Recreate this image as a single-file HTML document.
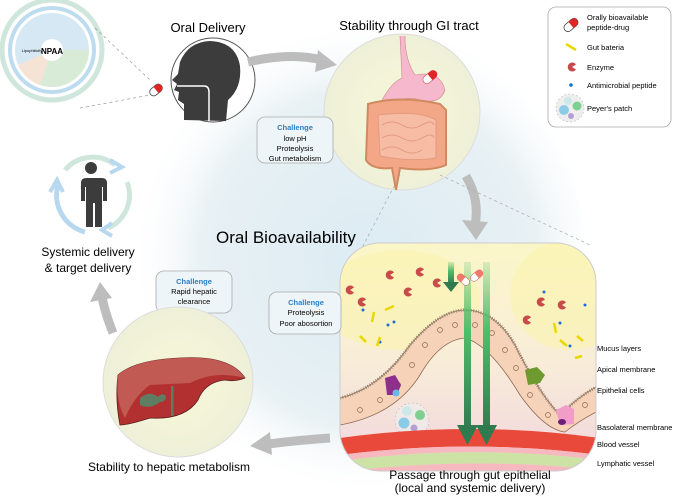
<!DOCTYPE html>
<html><head><meta charset="utf-8"><style>
html,body{margin:0;padding:0;background:#fff;width:685px;height:500px;overflow:hidden;}
svg{display:block;font-family:"Liberation Sans",Arial,sans-serif;}
</style></head><body>
<svg width="685" height="500" viewBox="0 0 685 500" xmlns="http://www.w3.org/2000/svg">
<defs>
<radialGradient id="bg" cx="0.55" cy="0.5" r="0.5">
<stop offset="0" stop-color="#dcebf3"/><stop offset="0.7" stop-color="#e8f1f4"/><stop offset="1" stop-color="#ffffff" stop-opacity="0"/>
</radialGradient>
<radialGradient id="yc" cx="0.5" cy="0.5" r="0.5">
<stop offset="0" stop-color="#f8f8d8"/><stop offset="1" stop-color="#eef0d8"/>
</radialGradient>
<linearGradient id="gutbg" x1="0" y1="0" x2="0" y2="1">
<stop offset="0" stop-color="#fbf6c8"/><stop offset="0.5" stop-color="#f8eed8"/><stop offset="1" stop-color="#f2d4de"/>
</linearGradient>
<linearGradient id="ga" x1="0" y1="0" x2="0" y2="1">
<stop offset="0" stop-color="#4fbf6a" stop-opacity="0.2"/><stop offset="0.4" stop-color="#4fbf6a"/><stop offset="1" stop-color="#2f7a4f"/>
</linearGradient>
<path id="pac" d="M0 0 L4 -2.5 A4.5 4.5 0 1 0 4 2.5 Z" fill="#c94a4a"/>
<clipPath id="gc"><rect x="340" y="243" width="256" height="228" rx="40"/></clipPath>
</defs>
<rect width="685" height="500" fill="#fff"/>
<circle cx="345" cy="258" r="240" fill="url(#bg)"/>

<!-- wheel -->
<g>
<circle cx="52" cy="50" r="50" fill="none" stroke="#cfe6dc" stroke-width="5"/>
<circle cx="52" cy="50" r="42" fill="none" stroke="#bddcf0" stroke-width="4"/>
<circle cx="52" cy="50" r="37" fill="#d6e8f3"/>
<path d="M52 50 L89 50 A37 37 0 0 1 40 85 Z" fill="#d8ebd6"/>
<path d="M52 50 L40 85 A37 37 0 0 1 18 65 Z" fill="#f5e3d6"/>
<circle cx="52" cy="50" r="11" fill="#fff"/>
<text x="52" y="54" font-size="8" font-weight="bold" text-anchor="middle">NPAA</text>
<text x="32" y="52" font-size="4" text-anchor="middle">Lipophilicity</text>
</g>
<line x1="95" y1="28" x2="150" y2="80" stroke="#999" stroke-dasharray="3,3" stroke-width="0.7"/>
<line x1="80" y1="108" x2="150" y2="95" stroke="#999" stroke-dasharray="3,3" stroke-width="0.7"/>
<g transform="rotate(-40 156 90)"><rect x="149" y="86" width="14" height="8" rx="4" fill="#fff" stroke="#444" stroke-width="0.8"/><path d="M156 86 h3 a4 4 0 0 1 0 8 h-3z" fill="#e02525"/></g>

<!-- Oral delivery -->
<text x="208" y="32" font-size="13" text-anchor="middle">Oral Delivery</text>
<circle cx="213" cy="80" r="42" fill="#fff" stroke="#555" stroke-width="1"/>
<path d="M184 120 L184 104 L178 100 L179 92 L174 90 L177 84 L172 80 L178 74 L180 62 Q188 42 210 41 Q236 42 240 66 Q242 88 228 100 L226 121 Z" fill="#3c3c3c"/>
<path d="M177 86 L204 86 Q209 86 209 92 L209 121" fill="none" stroke="#fff" stroke-width="1.5"/>
<path d="M248 62 Q290 52 322 60" fill="none" stroke="#bdbdbd" stroke-width="9"/>
<path d="M318 50 L337 65 L315 72 Z" fill="#bdbdbd"/>

<!-- GI -->
<text x="409" y="30" font-size="13" text-anchor="middle">Stability through GI tract</text>
<circle cx="402" cy="112" r="78" fill="url(#yc)" stroke="#ddd" stroke-width="1"/>
<path d="M405 36 Q405 60 415 75 Q440 70 445 90 Q440 105 420 100 Q405 95 395 105 L382 100 Q392 82 402 78 L400 36" fill="#f5b8cc" stroke="#c88" stroke-width="0.6"/>
<g transform="rotate(-40 430 77)"><rect x="422" y="73" width="16" height="8" rx="4" fill="#fff" stroke="#c55" stroke-width="0.6"/><path d="M430 73h4a4 4 0 0 1 0 8h-4z" fill="#e02525"/></g>
<path d="M368 104 Q400 95 440 104 L446 110 L446 165 Q430 172 400 168 L396 190 L392 168 Q372 170 366 160 Z" fill="#f3a786" stroke="#d08a60" stroke-width="2"/>
<path d="M378 115 Q420 110 436 120 L436 158 Q410 162 380 156 Z" fill="#f6bca4" stroke="#e39a80" stroke-width="1"/>
<path d="M382 125 q10 -6 20 0 t20 0 t12 0 M382 138 q10 -6 20 0 t20 0 t12 0 M382 150 q10 -6 20 0 t20 0" fill="none" stroke="#e39a80" stroke-width="1"/>
<rect x="257" y="117" width="76" height="46" rx="8" fill="#eef5f8" stroke="#aaa" stroke-width="0.8"/>
<text x="295" y="130" font-size="7.5" font-weight="bold" fill="#2a7fc8" text-anchor="middle">Challenge</text>
<text x="295" y="141" font-size="7.5" text-anchor="middle">low pH</text>
<text x="295" y="151" font-size="7.5" text-anchor="middle">Proteolysis</text>
<text x="295" y="161" font-size="7.5" text-anchor="middle">Gut metabolism</text>

<!-- legend -->
<rect x="548" y="7" width="123" height="120" rx="8" fill="#fff" stroke="#aaa" stroke-width="0.8"/>
<g transform="rotate(-40 571 25)"><rect x="563" y="21" width="16" height="8" rx="4" fill="#fff" stroke="#444" stroke-width="0.8"/><path d="M571 21h4a4 4 0 0 1 0 8h-4z" fill="#e02525"/></g>
<text x="587" y="20" font-size="7.5">Orally bioavailable</text>
<text x="587" y="30" font-size="7.5">peptide-drug</text>
<line x1="566" y1="44" x2="576" y2="50" stroke="#e8d800" stroke-width="2.5"/>
<text x="587" y="50" font-size="7.5">Gut bateria</text>
<use href="#pac" x="572" y="67"/>
<text x="587" y="70" font-size="7.5">Enzyme</text>
<circle cx="571" cy="85" r="1.8" fill="#1f6fd0"/>
<text x="587" y="88" font-size="7.5">Antimicrobial peptide</text>
<circle cx="570" cy="108" r="14" fill="#eee" stroke="#bbb" stroke-dasharray="2,2" stroke-width="0.6"/>
<circle cx="564" cy="110" r="5" fill="#8ccbe8"/><circle cx="577" cy="106" r="4.5" fill="#7fcf90"/><circle cx="568" cy="101" r="4" fill="#cde8e8"/><circle cx="571" cy="116" r="3" fill="#b59ed4"/>
<text x="587" y="111" font-size="7.5">Peyer's patch</text>

<!-- arrow down right -->
<path d="M466 176 Q480 200 475 225" fill="none" stroke="#bdbdbd" stroke-width="9"/>
<path d="M462 220 L476 240 L488 222 Z" fill="#bdbdbd"/>
<line x1="440" y1="175" x2="590" y2="245" stroke="#aaa" stroke-dasharray="3,3" stroke-width="0.7"/>
<line x1="400" y1="175" x2="340" y2="290" stroke="#aaa" stroke-dasharray="3,3" stroke-width="0.7"/>

<text x="216" y="243" font-size="17">Oral Bioavailability</text>

<!-- gut panel -->
<g clip-path="url(#gc)">
<rect x="340" y="243" width="256" height="228" fill="url(#gutbg)"/>
<ellipse cx="400" cy="300" rx="80" ry="50" fill="#fbf3a8" opacity="0.5"/>
<ellipse cx="570" cy="295" rx="60" ry="55" fill="#fbf3a8" opacity="0.5"/>
<path d="M340 398 Q380 388 410 345 Q440 310 465 310 Q495 310 515 345 Q540 395 560 415 Q580 395 600 385 L600 410 Q580 420 565 432 Q545 430 520 395 Q490 345 465 338 Q440 340 420 375 Q395 415 340 425 Z" fill="#f5d2b8" stroke="#8b6a55" stroke-width="0.8"/>
<path d="M340 398 Q380 388 410 345 Q440 310 465 310 Q495 310 515 345 Q540 395 560 415 Q580 395 600 385" fill="none" stroke="#9a8570" stroke-width="3" stroke-dasharray="1,1.5"/>
<g fill="none" stroke="#8b6a55" stroke-width="0.7">
<circle cx="360" cy="410" r="2.5"/><circle cx="380" cy="400" r="2.5"/><circle cx="398" cy="385" r="2.5"/><circle cx="412" cy="365" r="2.5"/><circle cx="425" cy="345" r="2.5"/><circle cx="440" cy="330" r="2.5"/><circle cx="455" cy="325" r="2.5"/><circle cx="475" cy="325" r="2.5"/><circle cx="492" cy="333" r="2.5"/><circle cx="505" cy="350" r="2.5"/><circle cx="516" cy="368" r="2.5"/><circle cx="530" cy="395" r="2.5"/><circle cx="548" cy="415" r="2.5"/><circle cx="568" cy="420" r="2.5"/><circle cx="585" cy="405" r="2.5"/>
</g>
<path d="M385 378 l10 -3 l6 10 l-4 10 l-10 0 z" fill="#8e2f8e"/><circle cx="396" cy="393" r="3.5" fill="#6bb6ea"/>
<path d="M525 370 l12 -3 l8 8 l-5 8 l-12 2 z" fill="#6f9a30"/>
<path d="M556 410 l10 -5 l8 4 l0 15 l-14 1 z" fill="#f29cc8"/><ellipse cx="562" cy="422" rx="4" ry="3" fill="#6a1f7a"/>
<circle cx="412" cy="420" r="17" fill="#eee" opacity="0.7" stroke="#aaa" stroke-dasharray="2,2" stroke-width="0.6"/>
<circle cx="404" cy="423" r="5.5" fill="#8ccbe8"/><circle cx="420" cy="415" r="5" fill="#7fcf90"/><circle cx="407" cy="411" r="5" fill="#cde8e8"/><circle cx="414" cy="428" r="3.5" fill="#b59ed4"/>
<path d="M340 438 Q470 420 600 438 L600 455 Q470 438 340 455 Z" fill="#e8493a"/>
<path d="M340 455 Q470 438 600 455 L600 460 Q470 444 340 461 Z" fill="#f6b9bf"/>
<path d="M340 461 Q470 444 600 460 L600 470 Q470 456 340 472 Z" fill="#cde3a6"/>
<path d="M340 472 Q470 456 600 470 L600 480 L340 480 Z" fill="#f6b9bf"/>
<rect x="448" y="262" width="6" height="22" fill="url(#ga)"/><path d="M443 282 h16 l-8 10z" fill="#2f7a4f"/>
<rect x="464" y="262" width="7" height="170" fill="url(#ga)"/><path d="M457 425 h21 l-10.5 20z" fill="#2f7a4f"/>
<rect x="483" y="262" width="7" height="170" fill="url(#ga)"/><path d="M476 425 h21 l-10.5 20z" fill="#2f7a4f"/>
<g transform="rotate(40 463 280)"><rect x="456" y="276" width="14" height="7" rx="3.5" fill="#fff" stroke="#c55" stroke-width="0.5"/><path d="M456 279.5a3.5 3.5 0 0 1 3.5 -3.5h3.5v7h-3.5a3.5 3.5 0 0 1-3.5-3.5z" fill="#ef7a6a"/></g>
<g transform="rotate(-40 477 276)"><rect x="470" y="272" width="14" height="7" rx="3.5" fill="#fff" stroke="#c55" stroke-width="0.5"/><path d="M477 272h3.5a3.5 3.5 0 0 1 0 7h-3.5z" fill="#ef7a6a"/></g>
<use href="#pac" x="390" y="275"/><use href="#pac" x="420" y="272"/><use href="#pac" x="350" y="290"/><use href="#pac" x="408" y="292"/><use href="#pac" x="437" y="283"/><use href="#pac" x="362" y="302"/><use href="#pac" x="541" y="302"/><use href="#pac" x="562" y="305"/><use href="#pac" x="527" y="320"/>
<g fill="#1f6fd0"><circle cx="363" cy="310" r="1.5"/><circle cx="388" cy="325" r="1.5"/><circle cx="394" cy="322" r="1.5"/><circle cx="380" cy="342" r="1.5"/><circle cx="544" cy="292" r="1.5"/><circle cx="585" cy="305" r="1.5"/><circle cx="560" cy="323" r="1.5"/><circle cx="570" cy="346" r="1.5"/></g>
<g stroke="#e8d800" stroke-width="2.5"><line x1="385" y1="310" x2="394" y2="306"/><line x1="374" y1="312" x2="372" y2="322"/><line x1="360" y1="336" x2="366" y2="342"/><line x1="380" y1="337" x2="377" y2="346"/><line x1="554" y1="323" x2="556" y2="333"/><line x1="560" y1="340" x2="567" y2="346"/><line x1="577" y1="336" x2="583" y2="341"/><line x1="575" y1="358" x2="582" y2="356"/></g>
</g>
<rect x="340" y="243" width="256" height="228" rx="40" fill="none" stroke="#ccc" stroke-width="1"/>
<g font-size="7.5">
<text x="597" y="351">Mucus layers</text>
<text x="597" y="372">Apical  membrane</text>
<text x="597" y="393">Epithelial cells</text>
<text x="597" y="430">Basolateral membrane</text>
<text x="597" y="447">Blood vessel</text>
<text x="597" y="466">Lymphatic vessel</text>
</g>
<text x="470" y="479" font-size="12" text-anchor="middle">Passage through gut epithelial</text>
<text x="470" y="492" font-size="12" text-anchor="middle">(local and systemic delivery)</text>

<rect x="269" y="292" width="72" height="42" rx="8" fill="#eef5f8" stroke="#aaa" stroke-width="0.8"/>
<text x="306" y="305" font-size="7.5" font-weight="bold" fill="#2a7fc8" text-anchor="middle">Challenge</text>
<text x="306" y="315" font-size="7.5" text-anchor="middle">Proteolysis</text>
<text x="306" y="326" font-size="7.5" text-anchor="middle">Poor abosortion</text>

<!-- liver -->
<rect x="156" y="271" width="76" height="42" rx="8" fill="#eef5f8" stroke="#aaa" stroke-width="0.8"/>
<text x="194" y="284" font-size="7.5" font-weight="bold" fill="#2a7fc8" text-anchor="middle">Challenge</text>
<text x="194" y="294" font-size="7.5" text-anchor="middle">Rapid hepatic</text>
<text x="194" y="304" font-size="7.5" text-anchor="middle">clearance</text>
<circle cx="178" cy="382" r="75" fill="url(#yc)" stroke="#ddd"/>
<path d="M118 375 Q135 360 180 358 Q230 355 245 378 Q235 382 225 380 Q205 382 198 400 Q185 420 150 418 Q128 425 120 425 Q115 400 118 375Z" fill="#b23030" stroke="#5a1c1c" stroke-width="0.8"/>
<path d="M118 375 Q135 360 180 358 Q230 355 245 378 Q215 370 190 383 L150 385 Q135 395 125 418 Q115 400 118 375Z" fill="#c05a52"/>
<path d="M140 398 Q150 390 158 397 Q162 392 166 396 Q166 402 160 402 Q150 410 140 405Z" fill="#5e7d62"/>
<rect x="171" y="386" width="2.5" height="30" fill="#5e7d62"/>
<text x="169" y="471" font-size="12" text-anchor="middle">Stability to hepatic metabolism</text>
<path d="M330 438 Q300 440 268 444" fill="none" stroke="#bdbdbd" stroke-width="9"/>
<path d="M270 432 L250 446 L272 455 Z" fill="#bdbdbd"/>
<path d="M113 333 Q104 310 102 296" fill="none" stroke="#bdbdbd" stroke-width="9"/>
<path d="M90 302 L100 282 L112 298 Z" fill="#bdbdbd"/>

<!-- person -->
<path d="M65 170 A36 36 0 0 1 115 165" fill="none" stroke="#cfe6dc" stroke-width="5"/>
<path d="M110 160 l12 7 l-12 6" fill="none" stroke="#b8d8f0" stroke-width="4"/>
<path d="M127 182 A36 36 0 0 1 108 228" fill="none" stroke="#cfe6dc" stroke-width="5"/>
<path d="M112 236 l-10 -6 l10 -7" fill="none" stroke="#b8d8f0" stroke-width="4"/>
<path d="M85 232 A38 38 0 0 1 58 185" fill="none" stroke="#b8d8f0" stroke-width="5"/>
<path d="M50 192 l7 -12 l6 12" fill="none" stroke="#b8d8f0" stroke-width="4"/>
<circle cx="91" cy="168" r="6" fill="#3c3c3c"/>
<path d="M80 178 h22 q5 0 5 5 v18 h-4 v-14 h-1 v40 h-7 v-24 h-2 v24 h-7 v-40 h-1 v14 h-4 v-18 q0-5 5-5z" fill="#3c3c3c"/>
<text x="88" y="256" font-size="12" text-anchor="middle">Systemic delivery</text>
<text x="88" y="272" font-size="12" text-anchor="middle">&amp; target delivery</text>
</svg>
</body></html>
